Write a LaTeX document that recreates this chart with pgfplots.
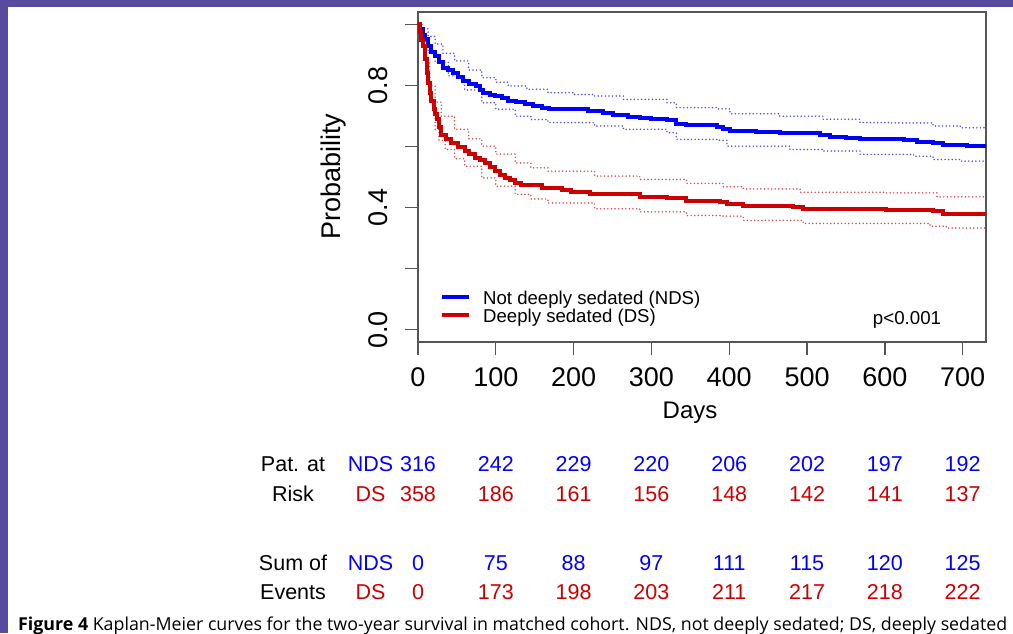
\documentclass[border=0pt]{standalone}
\usepackage{fontspec}
\setmainfont{Liberation Sans}
\newfontfamily\capfont{Open Sans}
\usepackage{pgfplots}
\usepackage{pgfplotstable}
\pgfplotsset{compat=1.18}
\definecolor{kmblue}{HTML}{0000FF}
\definecolor{kmred}{HTML}{CD0000}
\definecolor{framegray}{HTML}{555555}
\definecolor{edge}{HTML}{584A9E}

% Kaplan-Meier estimates
\pgfplotstableread{
day surv
0 1.000
3 0.985
6 0.965
9 0.951
13 0.929
17 0.910
22 0.896
27 0.876
32 0.858
38 0.850
45 0.842
52 0.828
58 0.814
66 0.806
75 0.798
80 0.786
84 0.776
92 0.770
99 0.765
108 0.757
116 0.749
126 0.744
137 0.738
148 0.732
159 0.727
168 0.724
219 0.716
238 0.710
251 0.703
270 0.698
285 0.694
300 0.691
320 0.688
332 0.672
345 0.669
384 0.665
392 0.658
401 0.650
435 0.647
465 0.645
517 0.639
529 0.632
550 0.627
568 0.623
624 0.620
641 0.614
662 0.610
675 0.604
705 0.601
730 0.601
}\nds

\pgfplotstableread{
day surv
0 1.000
2 0.975
4 0.950
7 0.929
9 0.885
11 0.842
13 0.808
15 0.776
17 0.748
20 0.721
22 0.705
24 0.689
27 0.664
30 0.639
36 0.626
43 0.612
51 0.598
60 0.585
66 0.574
73 0.563
80 0.555
86 0.546
92 0.533
99 0.519
105 0.508
112 0.497
118 0.489
125 0.481
133 0.473
159 0.465
185 0.459
197 0.450
221 0.446
277 0.445
285 0.435
320 0.430
345 0.421
388 0.417
397 0.412
418 0.404
482 0.402
495 0.395
602 0.393
662 0.388
675 0.380
730 0.380
}\ds

% confidence limits
\pgfplotstableread{
day surv
0 1.000
5 0.985
13 0.960
22 0.935
32 0.905
47 0.880
65 0.850
82 0.825
100 0.810
116 0.798
140 0.787
167 0.776
200 0.770
227 0.765
264 0.754
320 0.743
332 0.727
384 0.723
401 0.707
465 0.699
521 0.689
568 0.678
607 0.677
662 0.667
697 0.661
730 0.660
}\ndsup

\pgfplotstableread{
day surv
0 1.000
5 0.950
13 0.907
22 0.875
39 0.831
60 0.785
82 0.743
100 0.722
125 0.699
145 0.688
167 0.678
227 0.667
264 0.656
320 0.645
332 0.623
384 0.620
397 0.601
478 0.590
521 0.585
568 0.574
637 0.568
662 0.557
697 0.552
730 0.552
}\ndslo

\pgfplotstableread{
day surv
0 1.000
5 0.970
10 0.880
15 0.798
22 0.745
30 0.699
47 0.656
65 0.625
82 0.601
100 0.575
125 0.546
145 0.530
167 0.519
227 0.503
285 0.492
345 0.479
392 0.468
418 0.461
491 0.450
602 0.448
667 0.435
730 0.434
}\dsup

\pgfplotstableread{
day surv
0 1.000
5 0.930
10 0.830
15 0.750
22 0.656
27 0.620
35 0.590
47 0.560
60 0.535
82 0.497
100 0.470
125 0.443
145 0.428
167 0.415
227 0.396
285 0.386
345 0.374
392 0.372
418 0.358
495 0.348
658 0.339
679 0.333
730 0.333
}\dslo

\newcommand\rt{\fontsize{21.5}{24}\selectfont}

\begin{document}
\begin{tikzpicture}
\useasboundingbox (0,0) rectangle (1013pt,633pt);
\fill[white] (0,0) rectangle (1013pt,633pt);
\fill[edge] (0,0) rectangle (8pt,633pt);
\fill[edge] (0,626pt) rectangle (1013pt,633pt);

\begin{axis}[
  at={(418pt,291pt)}, anchor=south west,
  scale only axis, width=568pt, height=330pt,
  xmin=0, xmax=730, ymin=-0.04, ymax=1.04,
  clip=false,
  axis line style={draw=framegray, line width=1.3pt},
  tick style={draw=framegray, line width=1.3pt},
  tick align=outside, major tick length=13pt,
  xtick pos=bottom, ytick pos=left,
  xtick={0,100,200,300,400,500,600,700},
  xticklabels={0,100,200,300,400,500,600,700},
  ytick={0,0.2,0.4,0.6,0.8,1},
  yticklabels={0.0,,0.4,,0.8,},
  ticklabel style={font=\fontsize{27}{30}\selectfont, inner sep=0pt},
  xticklabel style={anchor=north},
  xticklabel shift=12pt,
  yticklabel style={rotate=90, anchor=south},
  yticklabel shift=17pt,
  xlabel={Days},
  xlabel style={font=\fontsize{24}{28}\selectfont, at={(axis description cs:0.479,-0.2303)}, anchor=base},
  ylabel={Probability},
  ylabel style={font=\fontsize{27}{30}\selectfont, at={(axis description cs:-0.1373,0.5015)}, anchor=base},
  legend style={draw=none, fill=none, at={(axis cs:28.3,0.1246)}, anchor=north west,
    font=\fontsize{18.6}{19}\selectfont, row sep=0pt, column sep=12pt, inner sep=0pt,
    nodes={inner sep=0pt, text height=13pt, text depth=5pt}},
  legend cell align=left,
  legend image code/.code={\draw[#1, line width=4pt] (0pt,4pt) -- (27pt,4pt);},
  ci/.style={line width=1.7pt, line cap=round, dash pattern=on 0pt off 3.6pt, opacity=0.7, const plot, forget plot},
]
\addplot[kmblue, ci] table {\ndsup};
\addplot[kmblue, ci] table {\ndslo};
\addplot[kmred, ci] table {\dsup};
\addplot[kmred, ci] table {\dslo};
\addplot[kmblue, line width=4pt, const plot] table {\nds};
\addlegendentry{Not deeply sedated (NDS)}
\addplot[kmred, line width=4pt, const plot] table {\ds};
\addlegendentry{Deeply sedated (DS)}

\node[anchor=base, font=\fontsize{18.7}{20}\selectfont] at (axis cs:628.5,0.0164) {p<0.001};

% patients at risk
\node[anchor=base, font=\rt] at (axis cs:-160.6,-0.4646) {Pat. at};
\node[anchor=base, font=\rt] at (axis cs:-160.6,-0.5630) {Risk};
\node[anchor=base, font=\rt, text=kmblue] at (axis cs:-61,-0.4646) {NDS};
\node[anchor=base, font=\rt, text=kmred] at (axis cs:-61,-0.5630) {DS};
\node[anchor=base, font=\rt, text=kmblue] at (axis cs:0,-0.4646) {316};
\node[anchor=base, font=\rt, text=kmblue] at (axis cs:100,-0.4646) {242};
\node[anchor=base, font=\rt, text=kmblue] at (axis cs:200,-0.4646) {229};
\node[anchor=base, font=\rt, text=kmblue] at (axis cs:300,-0.4646) {220};
\node[anchor=base, font=\rt, text=kmblue] at (axis cs:400,-0.4646) {206};
\node[anchor=base, font=\rt, text=kmblue] at (axis cs:500,-0.4646) {202};
\node[anchor=base, font=\rt, text=kmblue] at (axis cs:600,-0.4646) {197};
\node[anchor=base, font=\rt, text=kmblue] at (axis cs:700,-0.4646) {192};
\node[anchor=base, font=\rt, text=kmred] at (axis cs:0,-0.5630) {358};
\node[anchor=base, font=\rt, text=kmred] at (axis cs:100,-0.5630) {186};
\node[anchor=base, font=\rt, text=kmred] at (axis cs:200,-0.5630) {161};
\node[anchor=base, font=\rt, text=kmred] at (axis cs:300,-0.5630) {156};
\node[anchor=base, font=\rt, text=kmred] at (axis cs:400,-0.5630) {148};
\node[anchor=base, font=\rt, text=kmred] at (axis cs:500,-0.5630) {142};
\node[anchor=base, font=\rt, text=kmred] at (axis cs:600,-0.5630) {141};
\node[anchor=base, font=\rt, text=kmred] at (axis cs:700,-0.5630) {137};

% cumulative events
\node[anchor=base, font=\rt] at (axis cs:-160.6,-0.7892) {Sum of};
\node[anchor=base, font=\rt] at (axis cs:-160.6,-0.8830) {Events};
\node[anchor=base, font=\rt, text=kmblue] at (axis cs:-61,-0.7892) {NDS};
\node[anchor=base, font=\rt, text=kmred] at (axis cs:-61,-0.8830) {DS};
\node[anchor=base, font=\rt, text=kmblue] at (axis cs:0,-0.7892) {0};
\node[anchor=base, font=\rt, text=kmblue] at (axis cs:100,-0.7892) {75};
\node[anchor=base, font=\rt, text=kmblue] at (axis cs:200,-0.7892) {88};
\node[anchor=base, font=\rt, text=kmblue] at (axis cs:300,-0.7892) {97};
\node[anchor=base, font=\rt, text=kmblue] at (axis cs:400,-0.7892) {111};
\node[anchor=base, font=\rt, text=kmblue] at (axis cs:500,-0.7892) {115};
\node[anchor=base, font=\rt, text=kmblue] at (axis cs:600,-0.7892) {120};
\node[anchor=base, font=\rt, text=kmblue] at (axis cs:700,-0.7892) {125};
\node[anchor=base, font=\rt, text=kmred] at (axis cs:0,-0.8830) {0};
\node[anchor=base, font=\rt, text=kmred] at (axis cs:100,-0.8830) {173};
\node[anchor=base, font=\rt, text=kmred] at (axis cs:200,-0.8830) {198};
\node[anchor=base, font=\rt, text=kmred] at (axis cs:300,-0.8830) {203};
\node[anchor=base, font=\rt, text=kmred] at (axis cs:400,-0.8830) {211};
\node[anchor=base, font=\rt, text=kmred] at (axis cs:500,-0.8830) {217};
\node[anchor=base, font=\rt, text=kmred] at (axis cs:600,-0.8830) {218};
\node[anchor=base, font=\rt, text=kmred] at (axis cs:700,-0.8830) {222};
\end{axis}

\node[anchor=base west, inner sep=0pt, font=\capfont\fontsize{17.8}{21}\selectfont] at (18pt,3pt)
  {\textbf{Figure 4} Kaplan-Meier curves for the two-year survival in matched cohort. NDS, not deeply sedated; DS, deeply sedated};
\end{tikzpicture}
\end{document}
